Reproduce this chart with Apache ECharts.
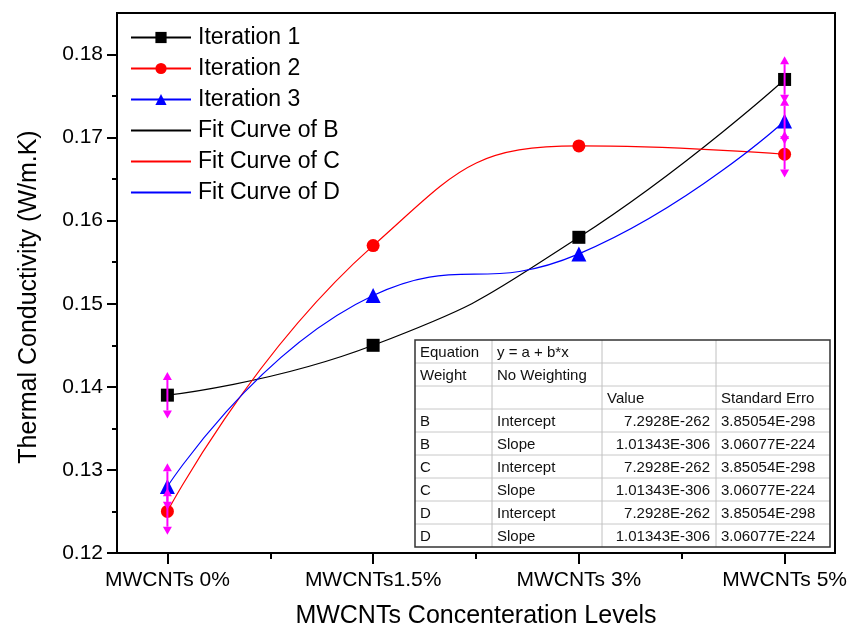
<!DOCTYPE html>
<html>
<head>
<meta charset="utf-8">
<script src="https://cdn.jsdelivr.net/npm/echarts@6/dist/echarts.min.js"></script>
<style>html,body{margin:0;padding:0;background:#fff;}#chart{width:854px;height:629px;}</style>
</head>
<body>
<div id="chart"></div>
<script>
// ---- data ----
const categories = ['MWCNTs 0%', 'MWCNTs1.5%', 'MWCNTs 3%', 'MWCNTs 5%'];
const iter1 = [0.139, 0.145, 0.158, 0.177];
const iter2 = [0.125, 0.157, 0.169, 0.168];
const iter3 = [0.128, 0.151, 0.156, 0.172];
const err1 = [0.0028, null, null, 0.0028];
const err2 = [0.0028, null, null, 0.0028];
const err3 = [0.0028, null, null, 0.0028];
const yTicks = [0.12, 0.13, 0.14, 0.15, 0.16, 0.17, 0.18];
const yMinorTicks = [0.125, 0.135, 0.145, 0.155, 0.165, 0.175];
const xTicks = [0, 1, 2, 3];
const xMinorTicks = [0.5, 1.5, 2.5];
const seriesNames = ['Iteration 1', 'Iteration 2', 'Iteration 3'];
const fitNames = ['Fit Curve of B', 'Fit Curve of C', 'Fit Curve of D'];
const xTitle = 'MWCNTs Concenteration Levels';
const yTitle = 'Thermal Conductivity (W/m.K)';
const tableRows = [
  ['Equation', 'y = a + b*x', '', ''],
  ['Weight', 'No Weighting', '', ''],
  ['', '', 'Value', 'Standard Erro'],
  ['B', 'Intercept', '7.2928E-262', '3.85054E-298'],
  ['B', 'Slope', '1.01343E-306', '3.06077E-224'],
  ['C', 'Intercept', '7.2928E-262', '3.85054E-298'],
  ['C', 'Slope', '1.01343E-306', '3.06077E-224'],
  ['D', 'Intercept', '7.2928E-262', '3.85054E-298'],
  ['D', 'Slope', '1.01343E-306', '3.06077E-224']
];

// ---- build ----
const FONT = '"Liberation Sans", Arial, sans-serif';
const colors = ['#000000', '#ff0000', '#0000ff'];
const symbols = ['rect', 'circle', 'triangle'];
const symbolSizes = [13, 13, 15];
const iters = [iter1, iter2, iter3];
const errs = [err1, err2, err3];

const toXY = arr => arr.map((v, i) => [xTicks[i], v]);

const series = [];
for (let k = 0; k < 3; k++) {
  series.push({
    name: fitNames[k], type: 'line', data: toXY(iters[k]), smooth: 0.5,
    symbol: 'none', lineStyle: { color: colors[k], width: 1.2 }, itemStyle: { color: colors[k] },
    z: 2, silent: true
  });
}
for (let k = 0; k < 3; k++) {
  series.push({
    name: seriesNames[k], type: 'line', data: toXY(iters[k]), smooth: 0.5,
    symbol: symbols[k], symbolSize: symbolSizes[k], showSymbol: true,
    lineStyle: { color: colors[k], width: 1.2, opacity: 0 }, itemStyle: { color: colors[k] },
    z: 3, silent: true
  });
}
function renderErr(params, api) {
  const x = api.value(0), y = api.value(1), e = api.value(2);
  const t = api.coord([x, y + e]);
  const b = api.coord([x, y - e]);
  const ah = 8, aw = 4.5;
  const c = '#ff00ff';
  return {
    type: 'group', children: [
      { type: 'line', shape: { x1: t[0], y1: t[1] + ah, x2: b[0], y2: b[1] - ah }, style: { stroke: c, lineWidth: 2 } },
      { type: 'polygon', shape: { points: [[t[0], t[1]], [t[0] - aw, t[1] + ah], [t[0] + aw, t[1] + ah]] }, style: { fill: c } },
      { type: 'polygon', shape: { points: [[b[0], b[1]], [b[0] - aw, b[1] - ah], [b[0] + aw, b[1] - ah]] }, style: { fill: c } }
    ]
  };
}
const errData = [];
for (let k = 0; k < 3; k++) {
  iters[k].forEach((v, i) => { if (errs[k][i] != null) errData.push([xTicks[i], v, errs[k][i]]); });
}
series.push({ type: 'custom', renderItem: renderErr, data: errData, z: 5, silent: true, encode: { x: 0, y: 1 } });

// table graphic
const colX = [415, 492, 602, 716, 830];
const rowY0 = 340, rowH = 23;
const tg = [];
tg.push({ type: 'rect', shape: { x: colX[0], y: rowY0, width: colX[4] - colX[0], height: rowH * tableRows.length }, style: { fill: '#fff', stroke: 'none' } });
for (let r = 1; r < tableRows.length; r++) {
  tg.push({ type: 'line', shape: { x1: colX[0], y1: rowY0 + r * rowH, x2: colX[4], y2: rowY0 + r * rowH }, style: { stroke: '#c8c8c8', lineWidth: 1 } });
}
for (let c = 1; c < 4; c++) {
  tg.push({ type: 'line', shape: { x1: colX[c], y1: rowY0, x2: colX[c], y2: rowY0 + rowH * tableRows.length }, style: { stroke: '#c0c0c0', lineWidth: 1 } });
}
tg.push({ type: 'rect', shape: { x: colX[0], y: rowY0, width: colX[4] - colX[0], height: rowH * tableRows.length }, style: { fill: 'none', stroke: '#333', lineWidth: 1.5 } });
tableRows.forEach((row, r) => {
  const cy = rowY0 + r * rowH + rowH / 2 + 1;
  row.forEach((txt, c) => {
    if (!txt) return;
    const isNum = c === 2 && r >= 3;
    tg.push({
      type: 'text', x: isNum ? colX[3] - 6 : colX[c] + 5, y: cy,
      style: { text: txt, font: '15px ' + FONT, fill: '#111', align: isNum ? 'right' : 'left', verticalAlign: 'middle' }
    });
  });
});
// y-axis title
tg.push({
  type: 'text', x: 29, y: 297, rotation: Math.PI / 2,
  style: { text: yTitle, font: '25px ' + FONT, fill: '#000', align: 'center', verticalAlign: 'middle' }
});

const option = {
  animation: false,
  backgroundColor: '#fff',
  grid: { left: 117, right: 19, top: 13, bottom: 76, outerBoundsMode: 'none', containLabel: false, show: true, borderColor: '#000', borderWidth: 2, backgroundColor: 'transparent' },
  legend: {
    orient: 'vertical', left: 125, top: 21, itemWidth: 60, itemHeight: 14, itemGap: 8,
    textStyle: { fontFamily: FONT, fontSize: 23, color: '#000', lineHeight: 23, padding: [0, 0, 0, 2] },
    data: [
      { name: seriesNames[0], lineStyle: { opacity: 1 } },
      { name: seriesNames[1], lineStyle: { opacity: 1 } },
      { name: seriesNames[2], lineStyle: { opacity: 1 } },
      { name: fitNames[0], itemStyle: { opacity: 0 } },
      { name: fitNames[1], itemStyle: { opacity: 0 } },
      { name: fitNames[2], itemStyle: { opacity: 0 } }
    ],
    selectedMode: false
  },
  xAxis: [
    {
      type: 'value', min: -0.245, max: 3.245, position: 'bottom',
      name: xTitle, nameLocation: 'middle', nameGap: 51,
      nameTextStyle: { fontFamily: FONT, fontSize: 25, color: '#000' },
      axisLine: { show: true, onZero: false, lineStyle: { color: '#000', width: 2 } },
      axisTick: { show: true, customValues: xTicks, length: 11, lineStyle: { color: '#000', width: 2 } },
      axisLabel: { customValues: xTicks, formatter: v => categories[Math.round(v)], fontFamily: FONT, fontSize: 21, color: '#000', margin: 17 },
      splitLine: { show: false }
    },
    {
      type: 'value', min: -0.245, max: 3.245, position: 'bottom', gridIndex: 0,
      axisLine: { show: false, onZero: false },
      axisTick: { show: true, customValues: xMinorTicks, length: 6, lineStyle: { color: '#000', width: 2 } },
      axisLabel: { show: false }, splitLine: { show: false }
    }
  ],
  yAxis: [
    {
      type: 'value', min: 0.12, max: 0.185, position: 'left',
      axisLine: { show: true, onZero: false, lineStyle: { color: '#000', width: 2 } },
      axisTick: { show: true, customValues: yTicks, length: 10, lineStyle: { color: '#000', width: 2 } },
      axisLabel: { customValues: yTicks, formatter: v => v.toFixed(2), fontFamily: FONT, fontSize: 21, color: '#000', margin: 14 },
      splitLine: { show: false }
    },
    {
      type: 'value', min: 0.12, max: 0.185, position: 'left',
      axisLine: { show: false, onZero: false },
      axisTick: { show: true, customValues: yMinorTicks, length: 5, lineStyle: { color: '#000', width: 2 } },
      axisLabel: { show: false }, splitLine: { show: false }
    }
  ],
  series: series,
  graphic: tg
};
const chart = echarts.init(document.getElementById('chart'), null, { renderer: 'canvas' });
chart.setOption(option);
</script>
</body>
</html>
